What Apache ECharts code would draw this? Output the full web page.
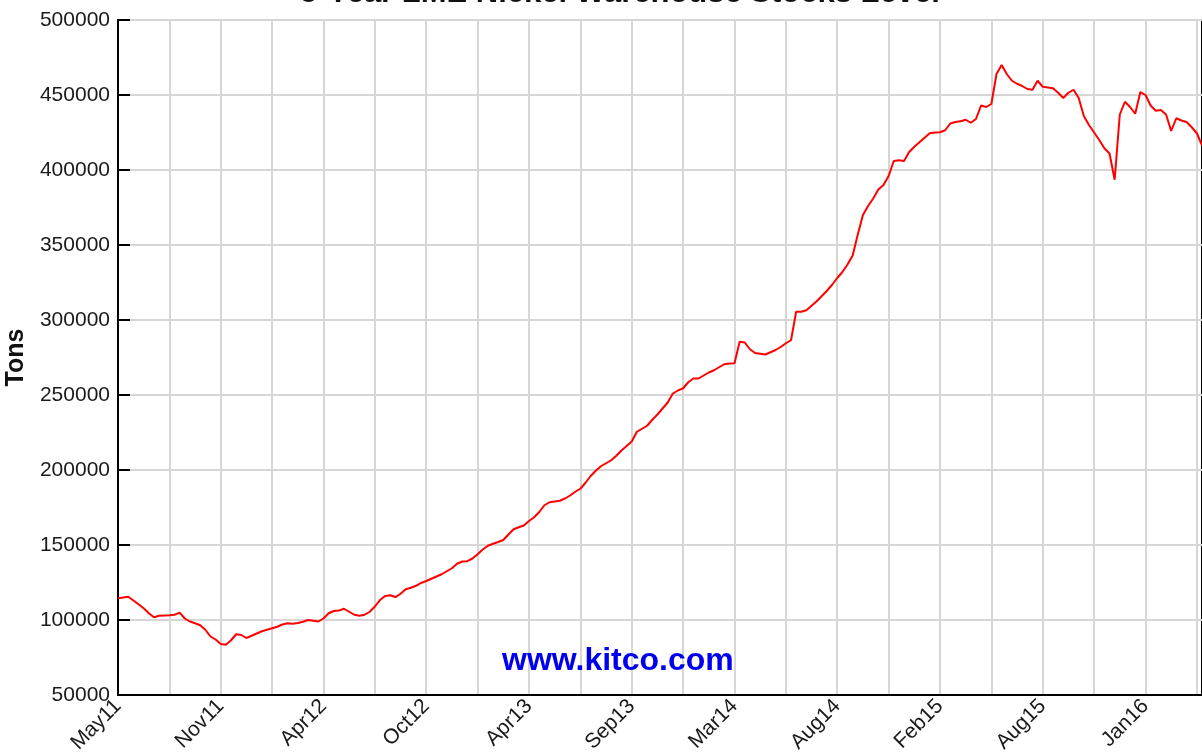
<!DOCTYPE html>
<html>
<head>
<meta charset="utf-8">
<title>5-Year LME Nickel Warehouse Stocks Level</title>
<script src="https://cdn.jsdelivr.net/npm/echarts@6/dist/echarts.min.js"></script>
<style>
  html, body { margin: 0; padding: 0; background: #fff; }
  #chart { width: 1202px; height: 755px; }
</style>
</head>
<body>
<div id="chart"></div>
<script>
// tick labels, one every 20 samples
const tickLabels = ['May11', 'Nov11', 'Apr12', 'Oct12', 'Apr13', 'Sep13', 'Mar14', 'Aug14', 'Feb15', 'Aug15', 'Jan16'];

// LME nickel stocks (tons), sampled evenly along the 5-year span
const stocks = [
  114500, 115000, 115500, 113000, 110500, 107800, 104500, 101800, 102800, 103000,
  103200, 103500, 104900, 101000, 99000, 97800, 96500, 93500, 89000, 87000,
  84000, 83500, 86500, 90500, 90000, 88000, 89500, 91000, 92500, 93500,
  94500, 95500, 97000, 97800, 97500, 98000, 98800, 100000, 99500, 99000,
  101000, 104500, 106000, 106300, 107500, 105500, 103500, 102800, 103500, 105500,
  109000, 113300, 116000, 116500, 115300, 117500, 120500, 121500, 122800, 124700,
  126000, 127500, 129000, 130500, 132500, 134500, 137500, 139000, 139200, 141000,
  143800, 147000, 149500, 150800, 152000, 153300, 157000, 160500, 161800, 163000,
  166000, 168500, 172000, 176500, 178500, 179000, 179500, 181000, 183000, 185500,
  187500, 191500, 196000, 199500, 202500, 204500, 206500, 209500, 213000, 216000,
  219000, 225500, 227500, 229500, 233500, 237000, 241000, 245000, 251000, 253000,
  254500, 258500, 261000, 261000, 263000, 265000, 266500, 268500, 270500, 271000,
  271200, 285500, 285000, 280500, 278000, 277500, 277000, 278500, 280000, 282000,
  284500, 286500, 305500, 305500, 306500, 309500, 312500, 316000, 319500, 323500,
  328000, 332000, 337000, 343000, 357000, 370000, 376000, 381000, 387000, 390000,
  396000, 406000, 406500, 406000, 412000, 415500, 418500, 421500, 424500, 425000,
  425200, 426500, 431000, 432000, 432500, 433500, 431500, 434000, 443000, 442000,
  444000, 464000, 470000, 464000, 459500, 457500, 456000, 454000, 453500, 459500,
  455500, 455000, 454500, 451500, 448000, 451500, 453500, 448000, 436000, 430000,
  425000, 420000, 414500, 411000, 393500, 437000, 445500, 442000, 437500, 452000,
  450000, 443000, 439500, 440000, 437000, 426000, 434500, 433000, 432000, 428500,
  424500, 416500
];

const yMin = 50000;
const yMax = 500000;
const yStep = 50000;

const font = "'Liberation Sans', Arial, sans-serif";
const chart = echarts.init(document.getElementById('chart'));

const option = {
  backgroundColor: '#fff',
  animation: false,
  title: {
    text: '5-Year LME Nickel Warehouse Stocks Level',
    left: 615,
    top: -27,
    textAlign: 'center',
    textStyle: { fontFamily: font, fontSize: 31, fontWeight: 'bold', color: '#111' }
  },
  grid: {
    left: 118,
    right: 0,
    top: 20,
    bottom: 60,
    outerBoundsMode: 'none',
    containLabel: false,
    show: true,
    borderColor: '#000',
    borderWidth: 2
  },
  xAxis: {
    type: 'category',
    boundaryGap: false,
    data: stocks.map((_, i) => i),
    axisLine: { lineStyle: { color: '#000', width: 2 } },
    axisTick: { show: false },
    axisLabel: {
      interval: (i) => i % 20 === 0,
      formatter: (v, i) => tickLabels[i / 20] || '',
      rotate: 45,
      margin: 8,
      fontFamily: font,
      fontSize: 21,
      color: '#1a1a1a'
    },
    splitLine: {
      show: true,
      interval: (i) => i % 10 === 0,
      lineStyle: { color: '#d6d6d6', width: 2 }
    }
  },
  yAxis: {
    type: 'value',
    min: yMin,
    max: yMax,
    interval: yStep,
    name: 'Tons',
    nameLocation: 'middle',
    nameGap: 85,
    nameRotate: 90,
    nameTextStyle: { fontFamily: font, fontSize: 25, fontWeight: 'bold', color: '#111' },
    axisLine: { show: true, lineStyle: { color: '#000', width: 2 } },
    axisTick: { show: true, inside: true, length: 12, lineStyle: { color: '#000', width: 2 } },
    axisLabel: {
      formatter: (v) => String(v),
      fontFamily: font,
      fontSize: 21,
      color: '#1a1a1a',
      margin: 8
    },
    splitLine: { lineStyle: { color: '#d6d6d6', width: 2 } }
  },
  graphic: [{
    type: 'text',
    left: 502,
    top: 645,
    z: 100,
    style: {
      text: 'www.kitco.com',
      font: 'bold 32px ' + font,
      fill: '#0000ee'
    }
  }],
  series: [{
    type: 'line',
    data: stocks,
    symbol: 'none',
    lineStyle: { color: '#ff0000', width: 2 }
  }]
};

chart.setOption(option);
</script>
</body>
</html>
